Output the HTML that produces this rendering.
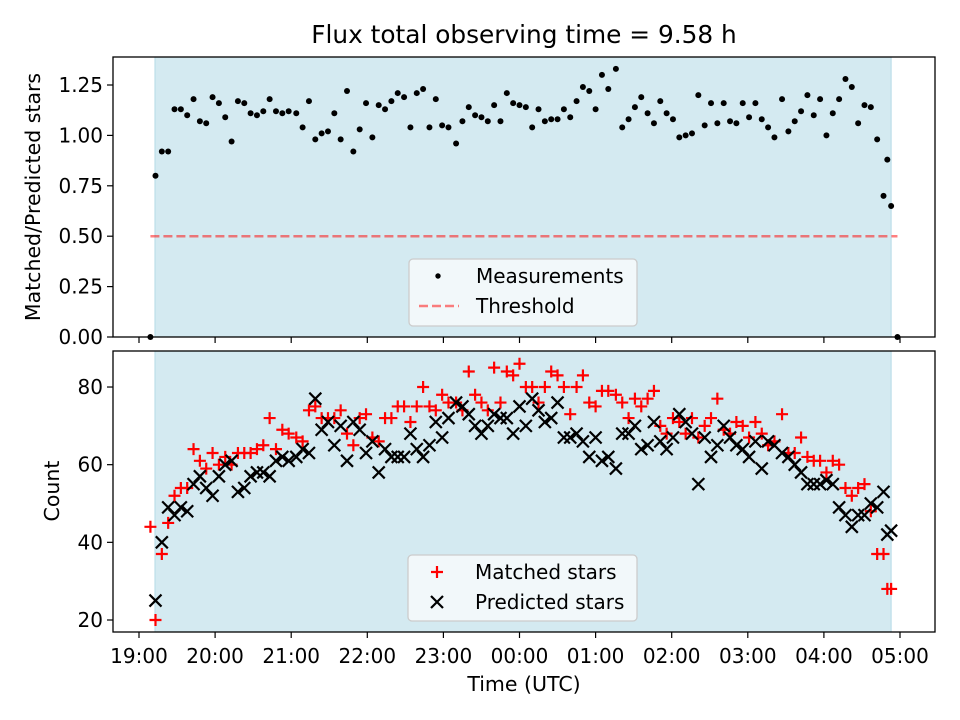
<!DOCTYPE html>
<html><head><meta charset="utf-8"><style>
body{margin:0;background:#fff;}
svg{display:block;font-family:"DejaVu Sans","Liberation Sans",sans-serif;}
</style></head><body>
<svg id="chart" width="960" height="720" viewBox="0 0 960 720">
<text x="524" y="43" font-size="24.8" text-anchor="middle">Flux total observing time = 9.58 h</text>
<g id="topPanel"></g>
<g id="botPanel"></g>
<text transform="translate(40,197) rotate(-90)" font-size="20.5" text-anchor="middle">Matched/Predicted stars</text>
<text transform="translate(59,491) rotate(-90)" font-size="20.5" text-anchor="middle">Count</text>
<text x="524" y="691" font-size="20.5" text-anchor="middle">Time (UTC)</text>
</svg>
<script>
// minutes after 19:00 UTC
const times=[9,13,18,23,28,33,38,43,48,53,58,63,68,73,78,83,88,93,98,103,108,113,118,124,129,134,139,144,149,154,159,164,169,174,179,184,189,194,199,204,209,214,219,224,229,234,239,244,250,255,260,265,270,275,280,285,290,295,300,305,310,315,320,325,330,335,340,345,350,355,360,365,370,376,381,386,391,396,401,406,411,416,421,426,431,436,441,446,451,456,461,466,471,476,481,486,491,496,501,507,512,517,522,527,532,537,542,547,552,557,562,567,572,577,582,587,590,593,598];
const ratio=[0,0.80,0.92,0.92,1.13,1.13,1.10,1.18,1.07,1.06,1.19,1.16,1.09,0.97,1.17,1.16,1.11,1.10,1.12,1.18,1.12,1.11,1.12,1.11,1.04,1.17,0.98,1.01,1.02,1.11,0.98,1.22,0.92,1.03,1.16,0.99,1.15,1.13,1.17,1.21,1.19,1.04,1.21,1.23,1.04,1.18,1.05,1.04,0.96,1.07,1.14,1.10,1.09,1.07,1.15,1.07,1.21,1.16,1.15,1.14,1.04,1.13,1.07,1.08,1.08,1.13,1.09,1.17,1.24,1.22,1.13,1.30,1.23,1.33,1.04,1.08,1.14,1.19,1.11,1.06,1.17,1.11,1.08,0.99,1.00,1.01,1.20,1.05,1.16,1.06,1.16,1.07,1.06,1.16,1.09,1.16,1.08,1.04,0.99,1.18,1.02,1.07,1.12,1.20,1.10,1.18,1.00,1.11,1.18,1.28,1.24,1.06,1.15,1.14,0.98,0.70,0.88,0.65,0];
const predicted=[null,25,40,49,47,49,48,55,57,54,52,57,60,61,53,54,57,58,58,57,61,62,61,62,64,63,77,69,71,65,70,61,71,69,63,66,58,64,62,62,62,68,64,62,65,71,67,72,76,75,73,70,68,70,73,72,72,68,75,70,77,74,71,72,76,67,67,68,66,62,67,61,62,59,68,68,70,64,65,71,66,64,67,73,71,68,55,67,62,65,70,67,65,64,62,66,59,66,65,63,62,60,58,55,55,55,56,55,49,47,44,47,47,50,49,53,42,43,null];
const matched=[44,20,37,45,52,54,54,64,61,59,63,60,62,60,63,63,63,64,65,72,64,69,68,67,66,74,75,72,72,72,74,68,65,72,73,67,66,72,72,75,75,71,75,80,75,74,78,76,76,74,84,78,76,74,85,76,84,83,86,80,80,76,80,84,83,80,73,80,83,76,75,79,79,78,76,72,77,75,77,79,70,68,72,71,68,72,67,70,72,77,69,68,71,70,67,71,68,65,66,73,63,63,67,62,61,61,58,61,60,54,52,54,55,48,37,37,28,28,null];
const ratioTicks=["0.00","0.25","0.50","0.75","1.00","1.25"];
const countTicks=["20","40","60","80"];
const timeTicks=["19:00","20:00","21:00","22:00","23:00","00:00","01:00","02:00","03:00","04:00","05:00"];
const threshold=0.5, shadeStart=12.6, shadeEnd=593;

const NS="http://www.w3.org/2000/svg";
const L=113,R=935;
const X=m=>139+m/60*76.1;
const YT=v=>337-v*201.6;
const YB=v=>620-(v-20)*3.883;
function mk(p,tag,a){const e=document.createElementNS(NS,tag);for(const k in a)e.setAttribute(k,a[k]);p.appendChild(e);return e;}
const topG=document.getElementById('topPanel'),botG=document.getElementById('botPanel');
function panel(g,y0,y1,name){
  const s=mk(g,'rect',{x:X(shadeStart),y:y0,width:X(shadeEnd)-X(shadeStart),height:y1-y0,fill:'#d4eaf1',stroke:'#b5dbe6','stroke-width':1});
  
  
  timeTicks.forEach((t,i)=>{
    const x=X(i*60);
    const tk=mk(g,'line',{x1:x,x2:x,y1:y1,y2:y1+6,stroke:'#000','stroke-width':1.2});
    
    
    if(name==='bottom'){
      const tx=mk(g,'text',{x:x,y:y1+31,'font-size':20,'text-anchor':'middle'});tx.textContent=t;
      
      
    }
  });
}
panel(topG,57,337,'top');
panel(botG,351,632,'bottom');
ratioTicks.forEach(t=>{const y=YT(parseFloat(t));
  const l=mk(topG,'line',{x1:L-6,x2:L,y1:y,y2:y,stroke:'#000','stroke-width':1.2});
  
  
  const tx=mk(topG,'text',{x:L-10,y:y+7,'font-size':20,'text-anchor':'end'});tx.textContent=t;
  
  
});
countTicks.forEach(t=>{const y=YB(parseFloat(t));
  const l=mk(botG,'line',{x1:L-6,x2:L,y1:y,y2:y,stroke:'#000','stroke-width':1.2});
  
  
  const tx=mk(botG,'text',{x:L-10,y:y+7,'font-size':20,'text-anchor':'end'});tx.textContent=t;
  
  
});
const th=mk(topG,'line',{x1:X(times[0]),x2:X(times[times.length-1]),y1:YT(threshold),y2:YT(threshold),stroke:'#ff0000','stroke-opacity':0.5,'stroke-width':2.5,'stroke-dasharray':'9,4'});


times.forEach((m,i)=>{
  if(ratio[i]!=null){const c=mk(topG,'circle',{cx:X(m),cy:YT(ratio[i]),r:3,fill:'#000'});
    
    }
});
times.forEach((m,i)=>{
  if(matched[i]!=null){const x=X(m),y=YB(matched[i]);
    const p=mk(botG,'path',{d:`M${x-6} ${y}H${x+6}M${x} ${y-6}V${y+6}`,stroke:'#ff0000','stroke-width':2.2,fill:'none'});
    
    }
});
times.forEach((m,i)=>{
  if(predicted[i]!=null){const x=X(m),y=YB(predicted[i]);
    const p=mk(botG,'path',{d:`M${x-6} ${y-6}L${x+6} ${y+6}M${x-6} ${y+6}L${x+6} ${y-6}`,stroke:'#000','stroke-width':2.2,fill:'none'});
    
    }
});
[[topG,57,337],[botG,351,632]].forEach(([g,a,b])=>{
  const f=mk(g,'rect',{x:L,y:a,width:R-L,height:b-a,fill:'none',stroke:'#000','stroke-width':1.3});
  
  
});
function legend(g,x,y,w,h,items,name){
  const r=mk(g,'rect',{x:x,y:y,width:w,height:h,rx:4,fill:'#f7fafc','fill-opacity':0.85,stroke:'#ccc','stroke-width':1.3});
  
  
  items.forEach((it,i)=>{const cy=y+17+i*30;
    if(it.k==='dot'){const c=mk(g,'circle',{cx:x+29,cy:cy,r:2.7,fill:'#000'});}
    if(it.k==='dash'){const l=mk(g,'line',{x1:x+10,x2:x+50,y1:cy,y2:cy,stroke:'#ff0000','stroke-opacity':0.5,'stroke-width':2.5,'stroke-dasharray':'9,4'});}
    if(it.k==='plus'){const px=x+29;const p=mk(g,'path',{d:`M${px-6} ${cy}H${px+6}M${px} ${cy-6}V${cy+6}`,stroke:'#f00','stroke-width':2.2});}
    if(it.k==='x'){const px=x+29;const p=mk(g,'path',{d:`M${px-6} ${cy-6}L${px+6} ${cy+6}M${px-6} ${cy+6}L${px+6} ${cy-6}`,stroke:'#000','stroke-width':2.2});}
    const t=mk(g,'text',{x:x+67,y:cy+7,'font-size':20});t.textContent=it.t;
    
    
  });
}
legend(topG,409,259,228,67,[{k:'dot',t:'Measurements'},{k:'dash',t:'Threshold'}],'top-legend');
legend(botG,408,555,229,66,[{k:'plus',t:'Matched stars'},{k:'x',t:'Predicted stars'}],'bottom-legend');
</script>
</body></html>
